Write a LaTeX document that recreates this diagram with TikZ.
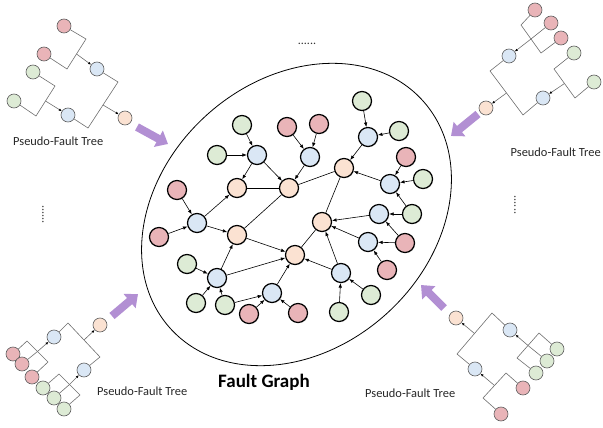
\documentclass[tikz,border=0pt]{standalone}
\usepackage{fontspec}
\setmainfont{Carlito}
\usetikzlibrary{arrows.meta,shadows}

\definecolor{nodepink}{RGB}{233,180,184}
\definecolor{nodegreen}{RGB}{221,235,213}
\definecolor{nodeblue}{RGB}{218,231,245}
\definecolor{nodeorange}{RGB}{251,226,210}
\definecolor{treeborder}{RGB}{95,95,95}
\definecolor{treeline}{RGB}{110,110,110}
\definecolor{flowpurple}{RGB}{178,143,211}

\begin{document}
\begin{tikzpicture}[x=1pt,y=-1pt,
  gnode/.style={circle, draw=black, line width=1.2pt, minimum size=19pt, inner sep=0pt,
    drop shadow={opacity=0.22, shadow xshift=0.8pt, shadow yshift=-0.8pt}},
  gpink/.style={gnode, fill=nodepink},
  ggreen/.style={gnode, fill=nodegreen},
  gblue/.style={gnode, fill=nodeblue},
  gorange/.style={gnode, fill=nodeorange},
  tnode/.style={circle, draw=treeborder, line width=0.6pt, minimum size=14pt, inner sep=0pt},
  tpink/.style={tnode, fill=nodepink},
  tgreen/.style={tnode, fill=nodegreen},
  tblue/.style={tnode, fill=nodeblue},
  torange/.style={tnode, fill=nodeorange},
  edge/.style={line width=0.6pt, -{Latex[length=4.5pt,width=3.5pt]}},
  link/.style={line width=0.6pt},
  tline/.style={draw=treeline, line width=0.6pt},
  tarrow/.style={tline, -{Latex[length=3pt,width=2.6pt,color=black]}},
  bigarrow/.style={line width=8pt, draw=flowpurple, -{Triangle[length=11pt,width=18pt]}},
  caption/.style={inner sep=0pt, anchor=base west, text=black!85, font=\fontsize{12.4}{14}\selectfont},
  dots/.style={inner sep=0pt, text=black!80, font=\fontsize{12}{14}\selectfont}
]
\useasboundingbox (0,0) rectangle (603,428);

% ---------- fault graph boundary ----------
\draw[line width=0.8pt, rotate around={42:(296.5,214.5)}]
  (296.5,214.5) ellipse [x radius=170pt, y radius=134pt];

% ---------- fault graph nodes ----------
\node[gblue] (b1) at (257,155) {};
\node[gblue] (b2) at (310,157) {};
\node[gblue] (b3) at (368,137) {};
\node[gblue] (b4) at (390,184) {};
\node[gblue] (b5) at (197,223) {};
\node[gblue] (b6) at (379,214) {};
\node[gblue] (b7) at (368,242) {};
\node[gblue] (b8) at (217,278) {};
\node[gblue] (b9) at (341,273) {};
\node[gblue] (b10) at (272,293) {};

\node[gorange] (o1) at (237,188) {};
\node[gorange] (o2) at (289,188) {};
\node[gorange] (o3) at (344,168) {};
\node[gorange] (o4) at (237,235) {};
\node[gorange] (o5) at (322,222) {};
\node[gorange] (o6) at (295,255) {};

\node[gpink] (p1) at (287,127) {};
\node[gpink] (p2) at (319,124) {};
\node[gpink] (p3) at (177,190) {};
\node[gpink] (p4) at (159,237) {};
\node[gpink] (p5) at (406,157) {};
\node[gpink] (p6) at (405,243) {};
\node[gpink] (p7) at (387,270) {};
\node[gpink] (p8) at (249,314) {};
\node[gpink] (p9) at (298,313) {};

\node[ggreen] (g1) at (242,125) {};
\node[ggreen] (g2) at (217,155) {};
\node[ggreen] (g3) at (362,101) {};
\node[ggreen] (g4) at (399,131) {};
\node[ggreen] (g5) at (423,179) {};
\node[ggreen] (g6) at (412,214) {};
\node[ggreen] (g7) at (187,264) {};
\node[ggreen] (g8) at (196,303) {};
\node[ggreen] (g9) at (225,305) {};
\node[ggreen] (g10) at (371,295) {};
\node[ggreen] (g11) at (339,312) {};

% ---------- fault graph connectors ----------
\foreach \s/\t in {g1/b1, g2/b1, b1/o1, b1/o2,
                   p1/b2, p2/b2, b2/o2,
                   g3/b3, g4/b3, b3/o3,
                   p5/b4, g5/b4, g6/b4, b4/o3,
                   g6/b6, p6/b6, b6/o5,
                   p6/b7, p7/b7, b7/o5,
                   p3/b5, p4/b5, b5/o1, b5/o4,
                   g7/b8, g8/b8, g9/b8, b8/o4, b8/o6,
                   g9/b10, p8/b10, p9/b10, b10/o6,
                   g10/b9, g11/b9, b9/o5, b9/o6,
                   o4/o6}
  \draw[edge] (\s) -- (\t);
\foreach \s/\t in {o1/o2, o2/o3, o2/o4, o3/o5, o5/o6}
  \draw[link] (\s) -- (\t);

\node[inner sep=0pt, anchor=base west, font=\fontsize{19}{22}\selectfont\bfseries] (title) at (218,387) {Fault Graph};

% ---------- pseudo-fault tree, upper left ----------
\node[tpink]   (ta) at (64,26) {};
\node[tpink]   (tb) at (44,54) {};
\node[tgreen]  (tc) at (33,72) {};
\node[tgreen]  (td) at (14,101) {};
\node[tblue]   (te) at (97,69) {};
\node[tblue]   (tf) at (68,115) {};
\node[torange] (tg) at (125,118) {};
\coordinate (tA) at (86,39);   \coordinate (tB) at (67,69);   \coordinate (tAm) at (76.5,54);
\coordinate (tC) at (55,86);   \coordinate (tD) at (36,116);  \coordinate (tCm) at (45.5,101);
\coordinate (tE) at (118,82);  \coordinate (tF) at (88,128);  \coordinate (tEm) at (103,105);
\draw[tline] (ta) -- (tA) -- (tB) -- (tb);
\draw[tline] (tc) -- (tC) -- (tD) -- (td);
\draw[tline] (te) -- (tE) -- (tF) -- (tf);
\draw[tarrow] (tAm) -- (te);
\draw[tarrow] (tCm) -- (tf);
\draw[tarrow] (tEm) -- (tg);
\node[caption] (capTL) at (13,146) {Pseudo-Fault Tree};

% ---------- pseudo-fault tree, upper right ----------
\node[tpink]   (rh) at (535,10) {};
\node[tpink]   (ri) at (551,23) {};
\node[tpink]   (rj) at (561,38) {};
\node[tgreen]  (rk) at (574,53) {};
\node[tgreen]  (rl) at (594,82) {};
\node[tblue]   (rm) at (509,56) {};
\node[tblue]   (rn) at (543,98) {};
\node[torange] (ro) at (486,108) {};
\coordinate (rS1) at (521,25);  \coordinate (rS2) at (541,53);  \coordinate (rSm) at (531,39);
\coordinate (rK1) at (554,69);  \coordinate (rL1) at (575,98);  \coordinate (rKm) at (564.5,83.5);
\coordinate (rM1) at (490,71);  \coordinate (rN1) at (523,115); \coordinate (rMm) at (506.5,93);
\draw[tline] (rh) -- (rS1) -- (rS2) -- (rj);
\draw[tline] (ri) -- (rSm);
\draw[tline] (rk) -- (rK1) -- (rL1) -- (rl);
\draw[tline] (rm) -- (rM1) -- (rN1) -- (rn);
\draw[tarrow] (rSm) -- (rm);
\draw[tarrow] (rKm) -- (rn);
\draw[tarrow] (rMm) -- (ro);
\node[caption] (capTR) at (510.5,156) {Pseudo-Fault Tree};

% ---------- pseudo-fault tree, lower left ----------
\node[tpink]   (lp1) at (13,354) {};
\node[tpink]   (lp2) at (22,364) {};
\node[tpink]   (lp3) at (32,377) {};
\node[tgreen]  (lg1) at (43,388) {};
\node[tgreen]  (lg2) at (54,398) {};
\node[tgreen]  (lg3) at (64,409) {};
\node[tblue]   (lb1) at (54,337) {};
\node[tblue]   (lb2) at (84,370) {};
\node[torange] (lo)  at (100,325) {};
\coordinate (lP1) at (27,341);  \coordinate (lP2) at (48,362);  \coordinate (lPm) at (37.5,351.5);
\coordinate (lG1) at (59,374);  \coordinate (lG2) at (80,395);  \coordinate (lGm) at (69.5,384.5);
\coordinate (lB1) at (68,323);  \coordinate (lB2) at (100,357); \coordinate (lBm) at (84,340);
\draw[tline] (lp1) -- (lP1) -- (lP2) -- (lp3);
\draw[tline] (lp2) -- (lPm);
\draw[tline] (lg1) -- (lG1) -- (lG2) -- (lg3);
\draw[tline] (lg2) -- (lGm);
\draw[tline] (lb1) -- (lB1) -- (lB2) -- (lb2);
\draw[tarrow] (lPm) -- (lb1);
\draw[tarrow] (lGm) -- (lb2);
\draw[tarrow] (lBm) -- (lo);
\node[caption] (capBL) at (97,395) {Pseudo-Fault Tree};

% ---------- pseudo-fault tree, lower right ----------
\node[torange] (wo)  at (456,318) {};
\node[tblue]   (wb1) at (510,330) {};
\node[tblue]   (wb2) at (475,369) {};
\node[tgreen]  (wg1) at (557,349) {};
\node[tgreen]  (wg2) at (547,361) {};
\node[tgreen]  (wg3) at (536,373) {};
\node[tpink]   (wp1) at (523,388) {};
\node[tpink]   (wp2) at (501,414) {};
\coordinate (wB1) at (492,313);  \coordinate (wB2) at (457,354);  \coordinate (wBm) at (474.5,333.5);
\coordinate (wG1) at (539,333);  \coordinate (wG2) at (517,358);  \coordinate (wGm) at (528,345.5);
\coordinate (wP1) at (506,373);  \coordinate (wP2) at (483,398);  \coordinate (wPm) at (494.5,385.5);
\draw[tline] (wb1) -- (wB1) -- (wB2) -- (wb2);
\draw[tline] (wg1) -- (wG1) -- (wG2) -- (wg3);
\draw[tline] (wg2) -- (wGm);
\draw[tline] (wp1) -- (wP1) -- (wP2) -- (wp2);
\draw[tarrow] (wBm) -- (wo);
\draw[tarrow] (wGm) -- (wb1);
\draw[tarrow] (wPm) -- (wb2);
\node[caption] (capBR) at (365,397) {Pseudo-Fault Tree};

% ---------- flow arrows into the graph ----------
\coordinate (fTLa) at (137,127);  \coordinate (fTLb) at (168,144);
\coordinate (fTRa) at (478,114);  \coordinate (fTRb) at (451,136);
\coordinate (fBLa) at (112,316);  \coordinate (fBLb) at (138,294);
\coordinate (fBRa) at (444,308);  \coordinate (fBRb) at (421,285);
\draw[bigarrow] (fTLa) -- (fTLb);
\draw[bigarrow] (fTRa) -- (fTRb);
\draw[bigarrow] (fBLa) -- (fBLb);
\draw[bigarrow] (fBRa) -- (fBRb);

% ---------- ellipsis marks ----------
\node[dots, anchor=base] (dotsTop) at (307,45) {......};
\node[dots, rotate=-90] (dotsLeft) at (43,214.5) {......};
\node[dots, rotate=-90] (dotsRight) at (515,205) {......};
\end{tikzpicture}
\end{document}
